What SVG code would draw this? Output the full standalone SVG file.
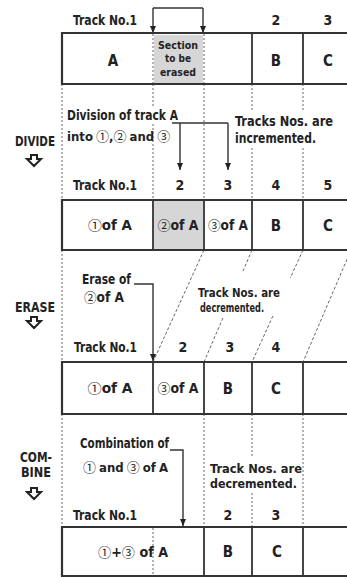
<svg xmlns="http://www.w3.org/2000/svg" width="347" height="577" viewBox="0 0 347 577">
<defs>
<marker id="ah" viewBox="0 0 7 6" refX="7" refY="3" markerWidth="7" markerHeight="6" markerUnits="userSpaceOnUse" orient="auto"><path d="M0,0 L7,3 L0,6 z" fill="#222"/></marker>
<path id="dn" d="M-3,0 H3 V4 H7 L0,11 L-7,4 H-3 Z"/>
</defs>
<style>
text{font-family:"Liberation Sans Narrow","DejaVu Sans Condensed","Liberation Sans",sans-serif;font-size:14px;fill:#222;font-weight:bold}
.m{text-anchor:middle}
.s{font-size:11px}
.n{font-size:13px}
.w{font-size:13px;word-spacing:-1px}
.cj{font-family:"Noto Sans CJK JP",sans-serif;font-weight:normal;font-size:13px}
.box{stroke:#333;stroke-width:2.2;fill:none}
.sep{stroke:#333;stroke-width:1.8}
.dot{stroke:#666;stroke-width:1;stroke-dasharray:2 2;fill:none}
.dash{stroke:#666;stroke-width:1;stroke-dasharray:3 2;fill:none}
.con{stroke:#333;stroke-width:1.4;fill:none}
.icon{fill:#fff;stroke:#222;stroke-width:2;stroke-linejoin:miter}
.shade{fill:#d6d6d6}
</style>
<rect width="347" height="577" fill="#fff"/>

<g id="connectors">
<path class="dot" d="M62,84 V200 M62,250 V362 M62,414 V527"/>
<path class="dot" d="M153,84 V106 M153,124 V200 M204,84 V200 M252,84 V110 M252,148 V200 M303,84 V110 M303,148 V200"/>
<path class="dash" d="M204,250 L153,362 M252,250 L242.6,272 M222.9,318 L204,362 M303,250 L290.3,278 M272.9,316 L252,362 M351,250 L303,362"/>
<path class="dot" d="M204,414 V527 M252,414 V456 M252,493 V527 M303,414 V527"/>
<path class="con" d="M153,8 H203"/>
<path class="con" d="M153,8 V33" marker-end="url(#ah)"/>
<path class="con" d="M203,8 V33" marker-end="url(#ah)"/>
<path class="con" d="M172,123 H228"/>
<path class="con" d="M180,123 V170" marker-end="url(#ah)"/>
<path class="con" d="M228,123 V170" marker-end="url(#ah)"/>
<path class="con" d="M134,284 H153 V361" marker-end="url(#ah)"/>
<path class="con" d="M170,450 H183 V526" marker-end="url(#ah)"/>
</g>

<g id="row1">
<text x="73" y="25" textLength="64" lengthAdjust="spacingAndGlyphs">Track No.1</text>
<text class="m" x="276" y="25">2</text>
<text class="m" x="328" y="25">3</text>
<rect class="shade" x="154" y="35" width="49" height="48"/>
<path class="dot" d="M153,34 V84 M204,34 V84"/>
<path class="box" d="M347,33 H62 V84 H347"/>
<path class="sep" d="M252,33 V84 M303,33 V84"/>
<text class="m" x="113" y="66" style="font-size:15px">A</text>
<text class="m s" x="178" y="49" textLength="40" lengthAdjust="spacingAndGlyphs">Section</text>
<text class="m s" x="178" y="62" textLength="26" lengthAdjust="spacingAndGlyphs">to be</text>
<text class="m s" x="178" y="76" textLength="36" lengthAdjust="spacingAndGlyphs">erased</text>
<text class="m" x="276" y="66" style="font-size:15px">B</text>
<text class="m" x="328" y="66" style="font-size:15px">C</text>
</g>

<g id="divide">
<text class="m" x="35" y="146" textLength="40" lengthAdjust="spacingAndGlyphs">DIVIDE</text>
<use href="#dn" class="icon" x="34" y="155"/>
<text x="67" y="120" textLength="111" lengthAdjust="spacingAndGlyphs">Division of track A</text>
<text class="w" x="67" y="141">into <tspan class="cj">①</tspan>,<tspan class="cj">②</tspan> and <tspan class="cj">③</tspan></text>
<text x="235" y="126" textLength="98" lengthAdjust="spacingAndGlyphs">Tracks Nos. are</text>
<text x="235" y="143" textLength="81" lengthAdjust="spacingAndGlyphs">incremented.</text>
</g>

<g id="row2">
<text x="73" y="190" textLength="64" lengthAdjust="spacingAndGlyphs">Track No.1</text>
<text class="m" x="180" y="190">2</text>
<text class="m" x="228" y="190">3</text>
<text class="m" x="276" y="190">4</text>
<text class="m" x="328" y="190">5</text>
<rect class="shade" x="154" y="201" width="49" height="48"/>
<path class="box" d="M347,200 H62 V250 H347"/>
<path class="sep" d="M153,200 V250 M204,200 V250 M252,200 V250 M303,200 V250"/>
<text class="m" x="110" y="230" textLength="44" lengthAdjust="spacingAndGlyphs"><tspan class="cj">①</tspan>of A</text>
<text class="m" x="178" y="230" textLength="41" lengthAdjust="spacingAndGlyphs"><tspan class="cj">②</tspan>of A</text>
<text class="m" x="228" y="230" textLength="40" lengthAdjust="spacingAndGlyphs"><tspan class="cj">③</tspan>of A</text>
<text class="m" x="276" y="231" style="font-size:15px">B</text>
<text class="m" x="328" y="231" style="font-size:15px">C</text>
</g>

<g id="erase">
<text class="m" x="35" y="312" textLength="40" lengthAdjust="spacingAndGlyphs">ERASE</text>
<use href="#dn" class="icon" x="34" y="317"/>
<text x="82" y="284" textLength="49" lengthAdjust="spacingAndGlyphs">Erase of</text>
<text x="84" y="302" textLength="40" lengthAdjust="spacingAndGlyphs"><tspan class="cj">②</tspan>of A</text>
<text class="n" x="198" y="297" textLength="82" lengthAdjust="spacingAndGlyphs">Track Nos. are</text>
<text class="n" x="200" y="312" textLength="64" lengthAdjust="spacingAndGlyphs">decremented.</text>
</g>

<g id="row3">
<text x="74" y="352" textLength="63" lengthAdjust="spacingAndGlyphs">Track No.1</text>
<text class="m" x="183" y="352">2</text>
<text class="m" x="230" y="352">3</text>
<text class="m" x="276" y="352">4</text>
<path class="box" d="M347,362 H62 V414 H347"/>
<path class="sep" d="M153,362 V414 M204,362 V414 M252,362 V414 M303,362 V414"/>
<text class="m" x="110" y="393" textLength="45" lengthAdjust="spacingAndGlyphs"><tspan class="cj">①</tspan>of A</text>
<text class="m" x="178" y="393" textLength="41" lengthAdjust="spacingAndGlyphs"><tspan class="cj">③</tspan>of A</text>
<text class="m" x="228" y="394" style="font-size:15px">B</text>
<text class="m" x="276" y="394" style="font-size:15px">C</text>
</g>

<g id="combine">
<text class="m" x="36" y="462" textLength="32" lengthAdjust="spacingAndGlyphs">COM-</text>
<text class="m" x="36" y="477" textLength="30" lengthAdjust="spacingAndGlyphs">BINE</text>
<use href="#dn" class="icon" x="34" y="488"/>
<text x="80" y="448" textLength="89" lengthAdjust="spacingAndGlyphs">Combination of</text>
<text class="w" x="83" y="472"><tspan class="cj">①</tspan> and <tspan class="cj">③</tspan> of A</text>
<text class="n" x="210" y="473" textLength="92" lengthAdjust="spacingAndGlyphs">Track Nos. are</text>
<text class="n" x="210" y="488" textLength="87" lengthAdjust="spacingAndGlyphs">decremented.</text>
</g>

<g id="row4">
<text x="73" y="520" textLength="64" lengthAdjust="spacingAndGlyphs">Track No.1</text>
<text class="m" x="228" y="520">2</text>
<text class="m" x="276" y="520">3</text>
<path class="dot" d="M153,528 V576"/>
<path class="box" d="M347,527 H62 V576 H347"/>
<path class="sep" d="M204,527 V576 M252,527 V576 M303,527 V576"/>
<text x="98" y="557" textLength="70" lengthAdjust="spacingAndGlyphs"><tspan class="cj">①</tspan>+<tspan class="cj">③</tspan> of A</text>
<text class="m" x="228" y="557" style="font-size:15px">B</text>
<text class="m" x="277" y="557" style="font-size:15px">C</text>
</g>
</svg>
